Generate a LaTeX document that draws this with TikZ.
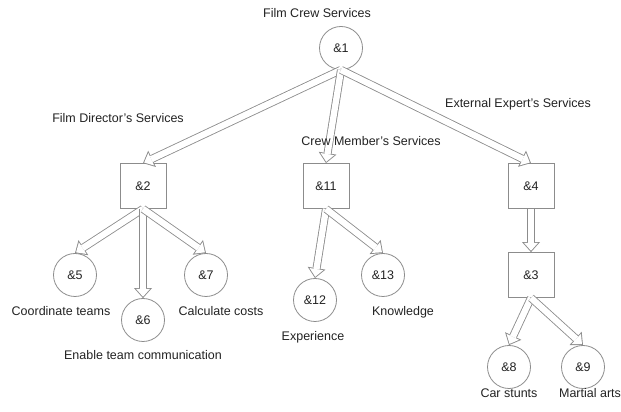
\documentclass[tikz,border=0pt]{standalone}
\usepackage{fontspec}
\setmainfont{Liberation Sans}
\usepackage{tikz}
\usetikzlibrary{arrows.meta}

\definecolor{linegray}{HTML}{8C8C8C}
\definecolor{textgray}{HTML}{222222}

\begin{document}
\begin{tikzpicture}[
    x=1pt,y=1pt,
    every node/.style={font=\fontsize{12.5}{14}\selectfont, text=textgray},
    task/.style={draw=linegray, line width=0.8pt, circle, minimum size=43pt, inner sep=0pt},
    service/.style={draw=linegray, line width=0.8pt, rectangle, minimum width=46pt, minimum height=45pt, inner sep=0pt},
    caption/.style={inner sep=1pt},
    hollow/.style={draw=linegray, line width=8pt,
      -{Triangle[length=10pt,width=18pt,line width=0pt]},
      postaction={draw=white, line width=6.3pt, shorten >=1.35pt,
        -{Triangle[length=7.75pt,width=13.9pt,line width=0pt]}}}
  ]
    \useasboundingbox (0,0) rectangle (621,412);

    \node[task] (n1) at (341,364) {\&1};
    \node[service] (n2) at (143,226) {\&2};
    \node[service] (n11) at (326,226) {\&11};
    \node[service] (n4) at (531,226) {\&4};
    \node[service] (n3) at (531,137) {\&3};
    \node[task] (n5) at (75,137) {\&5};
    \node[task] (n6) at (143,92) {\&6};
    \node[task] (n7) at (206,137) {\&7};
    \node[task] (n12) at (315,112) {\&12};
    \node[task] (n13) at (383,137) {\&13};
    \node[task] (n8) at (509,45) {\&8};
    \node[task] (n9) at (583,45) {\&9};

    \draw[hollow] (n1.south) -- (n2.north);
    \draw[hollow] (n1.south) -- (n11.north);
    \draw[hollow] (n1.south) -- (n4.north);
    \draw[hollow] (n2.south) -- (n5.north);
    \draw[hollow] (n2.south) -- (n6.north);
    \draw[hollow] (n2.south) -- (n7.north);
    \draw[hollow] (n11.south) -- (n12.north);
    \draw[hollow] (n11.south) -- (n13.north);
    \draw[hollow] (n4.south) -- (n3.north);
    \draw[hollow] (n3.south) -- (n8.north);
    \draw[hollow] (n3.south) -- (n9.north);

    \node[caption] (crew) at (317,399) {Film Crew Services};
    \node[caption] (director) at (118,294) {Film Director's Services};
    \node[caption] (member) at (371,271) {Crew Member's Services};
    \node[caption] (expert) at (518,308) {External Expert's Services};
    \node[caption] (coord) at (61,101) {Coordinate teams};
    \node[caption] (costs) at (221,101) {Calculate costs};
    \node[caption] (enable) at (143,57) {Enable team communication};
    \node[caption] (exper) at (313,75) {Experience};
    \node[caption] (know) at (403,100) {Knowledge};
    \node[caption] (stunts) at (509,19) {Car stunts};
    \node[caption] (arts) at (590,19) {Martial arts};
  \end{tikzpicture}
\end{document}
